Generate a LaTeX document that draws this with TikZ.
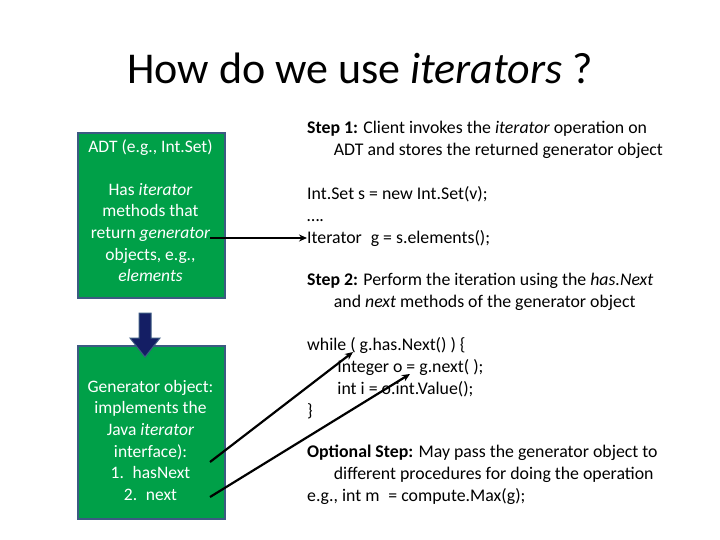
\documentclass[tikz,border=0pt]{standalone}
\usepackage{fontspec}
\setmainfont{Carlito}
\usetikzlibrary{arrows.meta}
\definecolor{boxgreen}{RGB}{0,160,72}
\definecolor{boxedge}{RGB}{60,90,130}
\definecolor{navy}{RGB}{20,30,100}
\begin{document}
\begin{tikzpicture}[x=1pt,y=-1pt,
  gbox/.style={draw=boxedge, line width=2pt, fill=boxgreen, anchor=north west, inner sep=0pt},
  gtext/.style={text=white, align=center, anchor=north, font=\fontsize{17.5}{21.6}\selectfont, inner sep=0pt},
  body/.style={anchor=north west, align=left, font=\fontsize{17.8}{22}\selectfont, inner sep=0pt},
  ptr/.style={line width=2.2pt, -{Stealth[length=8pt,width=7pt]}}]
\useasboundingbox (0,0) rectangle (720,540);
\node[anchor=center, font=\fontsize{44}{48}\selectfont] (title) at (360,68) {How do we use \textit{iterators} ?};
\node[gbox, minimum width=147pt, minimum height=165pt] (adt) at (77,132) {};
\node[gtext] (adtt) at (150.5,140) {ADT (e.g., Int.Set)};
\node[gtext] (adtb) at (150.5,183) {Has \textit{iterator}\\methods that\\return \textit{generator}\\objects, e.g.,\\\textit{elements}};
\node[gbox, minimum width=147pt, minimum height=173pt] (gen) at (77,345) {};
\node[gtext] (gent) at (150.5,380) {Generator object:\\implements the\\Java \textit{iterator}\\interface):\\1.\enspace hasNext\\2.\enspace next};
\draw[fill=navy, draw=boxedge, line width=1pt] (139,313) -- (151,313) -- (151,338) -- (160,338) -- (145,357) -- (130,338) -- (139,338) -- cycle;
\node[body] (s1) at (307,121) {\textbf{Step 1:} Client invokes the \textit{iterator} operation on\\\hspace*{1.5em}ADT and stores the returned generator object};
\node[body] (c1) at (307,186) {Int.Set s = new Int.Set(v);\\….\\Iterator\enspace g = s.elements();};
\node[body] (s2) at (307,273) {\textbf{Step 2:} Perform the iteration using the \textit{has.Next}\\\hspace*{1.5em}and \textit{next} methods of the generator object};
\node[body] (c2) at (307,337) {while ( g.has.Next() ) \{\\\hspace*{1.7em}Integer o = g.next( );\\\hspace*{1.7em}int i = o.int.Value();\\\}};
\node[body] (s3) at (307,445) {\textbf{Optional Step:} May pass the generator object to\\\hspace*{1.5em}different procedures for doing the operation\\e.g., int m\enspace= compute.Max(g);};
\coordinate (a1s) at (210,238);
\coordinate (a1e) at (307,238);
\coordinate (a2s) at (210,462);
\coordinate (a2e) at (353,352);
\coordinate (a3s) at (210,497);
\coordinate (a3e) at (410,374);
\draw[ptr] (a1s) -- (a1e);
\draw[ptr] (a2s) -- (a2e);
\draw[ptr] (a3s) -- (a3e);
\end{tikzpicture}
\end{document}
